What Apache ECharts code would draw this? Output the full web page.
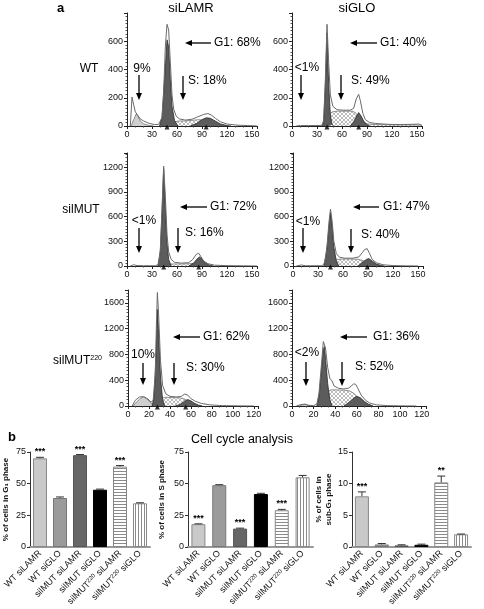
<!DOCTYPE html>
<html><head><meta charset="utf-8">
<script src="https://cdn.jsdelivr.net/npm/echarts@6/dist/echarts.min.js"></script>
<style>html,body{margin:0;padding:0;background:#fff}#c{width:484px;height:609px}</style>
</head><body><div id="c"></div>
<script>
// ---------- Histogram data (x = DNA content channel, y = counts) ----------
const wtLamrTotal = [[4,0],[6,205],[8,150],[10,100],[13,75],[16,50],[20,35],[26,20],[33,10],[38,12],[42,60],[44,250],[46,560],[48,720],[50,680],[52,450],[54,220],[56,120],[59,70],[63,50],[70,42],[78,48],[85,65],[92,82],[97,88],[101,78],[106,55],[112,30],[120,14],[132,6],[145,3],[156,0]];
const wtLamrSub = [[5,0],[8,45],[11,85],[13,70],[16,35],[20,15],[26,5],[32,0]];
const wtLamrG1 = [[39,0],[42,60],[45,320],[48,610],[50,560],[52,330],[54,140],[57,40],[61,0]];
const wtLamrS = [[44,0],[50,15],[55,28],[62,35],[70,36],[78,40],[86,45],[93,40],[100,28],[106,15],[112,5],[118,0]];
const wtLamrG2 = [[76,0],[84,20],[90,45],[95,58],[100,55],[106,35],[112,15],[120,3],[125,0]];
const wtLamrMarks = [48, 95];

const wtGloTotal = [[5,0],[10,3],[30,3],[36,5],[38,40],[40,330],[42,720],[44,450],[46,220],[49,140],[54,115],[62,112],[70,112],[74,125],[77,190],[80,225],[82,180],[85,90],[88,45],[93,25],[100,18],[115,12],[130,10],[145,12],[152,14],[156,5]];
const wtGloSub = [];
const wtGloG1 = [[36,0],[38,30],[40,280],[42,660],[44,300],[46,80],[48,10],[50,0]];
const wtGloS = [[40,0],[44,70],[48,100],[55,105],[65,105],[72,105],[76,95],[80,60],[85,30],[90,15],[100,10],[120,8],[140,8],[155,6],[156,0]];
const wtGloG2 = [[70,0],[74,30],[78,75],[80,95],[83,70],[86,35],[90,8],[93,0]];
const wtGloMarks = [42, 80];

const mutLamrTotal = [[4,0],[8,15],[12,5],[20,3],[34,3],[38,20],[40,200],[42,700],[44,1210],[46,850],[48,380],[50,170],[53,80],[57,45],[65,35],[74,40],[79,80],[83,140],[86,155],[89,110],[92,60],[97,28],[105,10],[120,4],[140,2],[156,0]];
const mutLamrSub = [];
const mutLamrG1 = [[37,0],[40,180],[42,620],[44,1180],[46,700],[48,280],[50,80],[53,0]];
const mutLamrS = [[42,0],[48,20],[55,25],[65,25],[75,28],[82,32],[88,25],[95,10],[100,0]];
const mutLamrG2 = [[74,0],[80,35],[84,85],[87,110],[90,85],[94,40],[99,10],[104,0]];
const mutLamrMarks = [44, 86];

const mutGloTotal = [[4,0],[10,12],[15,3],[35,3],[38,40],[41,250],[43,520],[45,690],[47,540],[49,300],[52,150],[56,105],[62,95],[72,95],[79,110],[83,160],[86,200],[89,210],[92,150],[95,80],[100,40],[108,15],[120,5],[135,2],[150,0]];
const mutGloSub = [];
const mutGloG1 = [[37,0],[40,150],[43,450],[45,650],[47,480],[49,230],[52,60],[55,0]];
const mutGloS = [[42,0],[47,50],[52,80],[60,85],[70,85],[78,82],[84,65],[90,40],[96,15],[102,0]];
const mutGloG2 = [[78,0],[83,40],[88,80],[91,90],[95,60],[100,25],[106,5],[110,0]];
const mutGloMarks = [45, 89];

const m220LamrTotal = [[4,0],[7,90],[11,140],[15,145],[19,110],[22,60],[24,90],[26,500],[27,1200],[28,1760],[29,1500],[31,700],[33,320],[36,190],[40,150],[46,140],[51,150],[54,185],[57,170],[60,115],[64,75],[70,40],[78,18],[90,6],[105,2],[120,0]];
const m220LamrSub = [[5,0],[8,60],[12,120],[15,140],[18,110],[21,60],[24,15],[26,0]];
const m220LamrG1 = [[23,0],[25,150],[27,900],[28,1500],[29,1200],[31,450],[33,100],[35,0]];
const m220LamrS = [[26,0],[29,60],[32,120],[36,135],[42,130],[48,130],[53,115],[57,80],[61,40],[65,10],[68,0]];
const m220LamrG2 = [[45,0],[50,25],[54,75],[57,100],[60,80],[63,45],[67,15],[71,0]];
const m220LamrMarks = [28, 55];

const m220GloTotal = [[4,0],[8,20],[12,30],[15,12],[20,5],[23,30],[25,200],[27,600],[29,1000],[30,1030],[31,900],[33,600],[35,430],[37,390],[39,310],[43,275],[48,265],[52,275],[55,310],[57,345],[59,335],[61,270],[64,170],[68,90],[72,45],[78,18],[88,6],[100,2],[115,0]];
const m220GloSub = [[6,0],[9,15],[12,25],[15,10],[18,0]];
const m220GloG1 = [[23,0],[25,150],[27,500],[29,880],[30,920],[31,750],[33,350],[35,100],[37,0]];
const m220GloS = [[26,0],[30,100],[33,220],[36,250],[42,250],[48,245],[53,235],[57,200],[61,130],[65,70],[70,25],[75,0]];
const m220GloG2 = [[48,0],[53,60],[57,120],[60,150],[63,130],[67,70],[71,25],[75,0]];
const m220GloMarks = [];

// ---------- Bar chart data ----------
const categories = ['WT siLAMR','WT siGLO','silMUT siLAMR','silMUT siGLO','silMUT220 siLAMR','silMUT220 siGLO'];
const g1Values = [70, 38.7, 72.5, 45.2, 63.5, 34.5];
const g1Errors = [0.8, 0.8, 0.5, 0.5, 0.8, 0.4];
const g1Stars  = ['***','','***','','***',''];
const sValues  = [18, 48.8, 14.5, 41.8, 29, 55];
const sErrors  = [0.3, 0.4, 0.4, 0.6, 0.7, 1.5];
const sStars   = ['***','','***','','***',''];
const subValues = [8.0, 0.4, 0.25, 0.35, 10.2, 2.0];
const subErrors = [0.7, 0.15, 0.1, 0.1, 1.0, 0.05];
const subStars  = ['***','','','','**',''];
const g1Ticks = [0, 25, 50, 75];
const sTicks = [0, 25, 50, 75];
const subTicks = [0, 5, 10, 15];

// ---------- patterns ----------
function makePattern(w, h, pixels, color) {
  const c = document.createElement('canvas');
  c.width = w; c.height = h;
  const ctx = c.getContext('2d');
  ctx.fillStyle = '#fff'; ctx.fillRect(0, 0, w, h);
  ctx.fillStyle = color;
  pixels.forEach(p => ctx.fillRect(p[0], p[1], p[2] || 1, p[3] || 1));
  return { image: c, repeat: 'repeat' };
}
const hatch = makePattern(4, 4, [[0,0],[1,1],[2,2],[3,3],[3,0],[2,1],[1,2],[0,3]], '#bdbdbd');
const hStripes = makePattern(3, 3, [[0,0,3,1]], '#8a8a8a');
const vStripes = makePattern(3, 3, [[0,0,1,3]], '#8a8a8a');

const FONT = 'Liberation Sans, Arial, sans-serif';
const plainNum = v => String(v);

const panels = [
  {grid:{left:127, top:13, width:130, height:113}, xMax:156, xInt:30, yMax:800, yInt:200, total:wtLamrTotal, sub:wtLamrSub, g1:wtLamrG1, g2:wtLamrG2, s:wtLamrS, marks:wtLamrMarks},
  {grid:{left:292, top:13, width:130, height:113}, xMax:156, xInt:30, yMax:800, yInt:200, total:wtGloTotal, sub:wtGloSub, g1:wtGloG1, g2:wtGloG2, s:wtGloS, marks:wtGloMarks},
  {grid:{left:127, top:153, width:130, height:113}, xMax:156, xInt:30, yMax:1370, yInt:300, total:mutLamrTotal, sub:mutLamrSub, g1:mutLamrG1, g2:mutLamrG2, s:mutLamrS, marks:mutLamrMarks},
  {grid:{left:293, top:153, width:130, height:113}, xMax:156, xInt:30, yMax:1370, yInt:300, total:mutGloTotal, sub:mutGloSub, g1:mutGloG1, g2:mutGloG2, s:mutGloS, marks:mutGloMarks},
  {grid:{left:128, top:290, width:130, height:116}, xMax:124, xInt:20, yMax:1800, yInt:400, total:m220LamrTotal, sub:m220LamrSub, g1:m220LamrG1, g2:m220LamrG2, s:m220LamrS, marks:m220LamrMarks},
  {grid:{left:292, top:290, width:134, height:116}, xMax:124, xInt:20, yMax:1800, yInt:400, total:m220GloTotal, sub:m220GloSub, g1:m220GloG1, g2:m220GloG2, s:m220GloS, marks:m220GloMarks}
];

const grids = [], xAxes = [], yAxes = [], series = [];
panels.forEach((p, i) => {
  grids.push(p.grid);
  xAxes.push({type:'value', gridIndex:i, min:0, max:p.xMax, interval:p.xInt,
    axisLine:{show:true, onZero:false, lineStyle:{color:'#222', width:1}},
    axisTick:{show:true, length:3, lineStyle:{color:'#222'}},
    minorTick:{show:true, splitNumber:3, length:1.5, lineStyle:{color:'#444'}},
    axisLabel:{fontSize:9, color:'#111', margin:4, fontFamily:FONT, showMaxLabel:false, formatter:plainNum},
    splitLine:{show:false}});
  yAxes.push({type:'value', gridIndex:i, min:0, max:p.yMax, interval:p.yInt,
    axisLine:{show:true, lineStyle:{color:'#222', width:1}},
    axisTick:{show:true, length:3, lineStyle:{color:'#222'}},
    minorTick:{show:true, splitNumber:8, length:1.5, lineStyle:{color:'#555'}},
    axisLabel:{fontSize:9, color:'#111', margin:4, fontFamily:FONT, showMaxLabel:false, formatter:plainNum},
    splitLine:{show:false}});
  const base = {type:'line', xAxisIndex:i, yAxisIndex:i, symbol:'none', silent:true, animation:false};
  series.push(Object.assign({}, base, {data:p.s, lineStyle:{color:'#777', width:0.8}, areaStyle:{color:hatch, opacity:1}, z:2}));
  if (p.sub.length) series.push(Object.assign({}, base, {data:p.sub, lineStyle:{color:'#777', width:0.8}, areaStyle:{color:'#cfcfcf', opacity:1}, z:3}));
  series.push(Object.assign({}, base, {data:p.g2, lineStyle:{color:'#2a2a2a', width:0.8}, areaStyle:{color:'#5c5c5c', opacity:1}, z:4}));
  series.push(Object.assign({}, base, {data:p.g1, lineStyle:{color:'#2a2a2a', width:0.8}, areaStyle:{color:'#5c5c5c', opacity:1}, z:5}));
  series.push(Object.assign({}, base, {data:p.total, lineStyle:{color:'#6a6a6a', width:1}, z:6}));
  if (p.marks.length) series.push({type:'scatter', xAxisIndex:i, yAxisIndex:i, symbol:'triangle', symbolSize:[5,5], symbolOffset:[0,1], itemStyle:{color:'#000'}, data:p.marks.map(x => [x, 0]), z:7, silent:true, animation:false});
});

// ---------- bar charts ----------
const barFills = ['#c9c9c9', '#9b9b9b', '#666666', '#000000', hStripes, vStripes];
const barBorders = ['#888', '#777', '#555', '#000', '#888', '#888'];
function labelFmt(v) { return v.replace('MUT220', 'MUT{sup|220}'); }
const barCharts = [
  {grid:{left:28, top:452, width:122, height:95}, ticks:g1Ticks, values:g1Values, errors:g1Errors, stars:g1Stars, name:'% of cells in G\u2081 phase', gap:19},
  {grid:{left:188, top:452, width:125, height:95}, ticks:sTicks, values:sValues, errors:sErrors, stars:sStars, name:'% of cells in S phase', gap:21},
  {grid:{left:352, top:452, width:119, height:95}, ticks:subTicks, values:subValues, errors:subErrors, stars:subStars, name:'% of cells in\nsub-G\u2081 phase', gap:15}
];
barCharts.forEach((b, k) => {
  const i = panels.length + k;
  grids.push(b.grid);
  xAxes.push({type:'category', gridIndex:i, data:categories,
    axisLine:{show:true, lineStyle:{color:'#999', width:2}},
    axisTick:{show:false},
    axisLabel:{rotate:45, fontSize:9, color:'#111', margin:5, fontFamily:FONT, interval:0, formatter:labelFmt,
      rich:{sup:{fontSize:6, verticalAlign:'top', color:'#111', fontFamily:FONT, padding:[0,0,4,0]}}}});
  const tickMax = b.ticks[b.ticks.length - 1];
  yAxes.push({type:'value', gridIndex:i, min:b.ticks[0], max:tickMax, interval:b.ticks[1] - b.ticks[0],
    name:b.name, nameLocation:'middle', nameGap:b.gap, nameRotate:90,
    nameTextStyle:{fontSize:8, fontWeight:'bold', color:'#111', fontFamily:FONT, lineHeight:10},
    axisLine:{show:true, lineStyle:{color:'#333', width:1}},
    axisTick:{show:true, length:3, lineStyle:{color:'#333'}},
    axisLabel:{fontSize:9, color:'#111', margin:4, fontFamily:FONT},
    splitLine:{show:false}});
  series.push({type:'bar', xAxisIndex:i, yAxisIndex:i, barWidth:14, animation:false, silent:true,
    data:b.values.map((v, j) => ({value:v, itemStyle:{color:barFills[j], borderColor:barBorders[j], borderWidth:1}})), z:2});
  series.push({type:'custom', xAxisIndex:i, yAxisIndex:i, animation:false, silent:true, z:5,
    data:b.values.map((v, j) => [j, v, b.errors[j]]),
    renderItem:(params, api) => {
      const j = api.value(0), v = api.value(1), e = api.value(2);
      const top = api.coord([j, v + e]);
      const bot = api.coord([j, v]);
      const children = [
        {type:'line', shape:{x1:top[0], y1:bot[1], x2:top[0], y2:top[1]}, style:{stroke:'#333', lineWidth:1}},
        {type:'line', shape:{x1:top[0]-4, y1:top[1], x2:top[0]+4, y2:top[1]}, style:{stroke:'#333', lineWidth:1}}
      ];
      if (b.stars[j]) children.push({type:'text', x:top[0], y:top[1] - 1,
        style:{text:b.stars[j], align:'center', verticalAlign:'bottom', font:'bold 9px ' + FONT, fill:'#000'}});
      return {type:'group', children};
    }});
});

// ---------- annotations ----------
function txt(text, x, y, size, align, weight) {
  return {type:'text', x:x, y:y, silent:true, z:20, style:{text:text, fill:'#000', font:(weight || 'normal') + ' ' + size + 'px ' + FONT, align:align || 'left', verticalAlign:'middle'}};
}
function arrow(x1, y1, x2, y2) {
  const dx = x2 - x1, dy = y2 - y1, L = Math.sqrt(dx*dx + dy*dy);
  const ux = dx / L, uy = dy / L, hl = 7, hw = 3;
  const bx = x2 - ux*hl, by = y2 - uy*hl;
  return {type:'group', silent:true, z:20, children:[
    {type:'line', shape:{x1:x1, y1:y1, x2:bx, y2:by}, style:{stroke:'#000', lineWidth:1.3}},
    {type:'polygon', shape:{points:[[x2, y2], [bx - uy*hw, by + ux*hw], [bx + uy*hw, by - ux*hw]]}, style:{fill:'#000'}}
  ]};
}
const graphics = [
  txt('a', 57, 8, 13, 'left', 'bold'),
  txt('siLAMR', 191, 8, 13, 'center'),
  txt('siGLO', 357, 8, 13, 'center'),
  txt('WT', 89, 69, 12, 'center'),
  txt('silMUT', 81, 210, 12, 'center'),
  {type:'text', x:53, y:361, silent:true, z:20, style:{text:'{a|silMUT}{b|220}', verticalAlign:'middle', align:'left',
    rich:{a:{font:'12px ' + FONT, fill:'#000'}, b:{font:'7px ' + FONT, fill:'#000', verticalAlign:'top', padding:[0,0,6,0]}}}},
  // row 1
  txt('9%', 142, 69, 12, 'center'), arrow(139, 75, 139, 100),
  arrow(183, 76, 183, 100), txt('S: 18%', 188, 81, 12),
  arrow(211, 43, 185, 43), txt('G1: 68%', 214, 43, 12),
  txt('<1%', 307, 68, 12, 'center'), arrow(301, 75, 301, 100),
  arrow(341, 75, 341, 100), txt('S: 49%', 351, 81, 12),
  arrow(377, 43, 350, 43), txt('G1: 40%', 380, 43, 12),
  // row 2
  txt('<1%', 144, 221, 12, 'center'), arrow(139, 228, 139, 253),
  arrow(178, 228, 178, 253), txt('S: 16%', 185, 233, 12),
  arrow(207, 207, 180, 207), txt('G1: 72%', 210, 207, 12),
  txt('<1%', 308, 222, 12, 'center'), arrow(303, 228, 303, 253),
  arrow(351, 229, 351, 253), txt('S: 40%', 361, 235, 12),
  arrow(379, 207, 353, 207), txt('G1: 47%', 383, 207, 12),
  // row 3
  txt('10%', 143, 355, 12, 'center'), arrow(143, 363, 143, 385),
  arrow(174, 363, 174, 385), txt('S: 30%', 186, 368, 12),
  arrow(200, 337, 173, 337), txt('G1: 62%', 203, 337, 12),
  txt('<2%', 307, 353, 12, 'center'), arrow(306, 362, 306, 386),
  arrow(342, 362, 342, 386), txt('S: 52%', 355, 367, 12),
  arrow(367, 337, 340, 337), txt('G1: 36%', 373, 337, 12),
  // part b
  txt('b', 8, 437, 13, 'left', 'bold'),
  txt('Cell cycle analysis', 242, 440, 12.5, 'center')
];

const chart = echarts.init(document.getElementById('c'), null, {renderer:'canvas'});
chart.setOption({
  animation:false,
  backgroundColor:'#fff',
  grid:grids, xAxis:xAxes, yAxis:yAxes, series:series, graphic:graphics
});
</script>
</body></html>
